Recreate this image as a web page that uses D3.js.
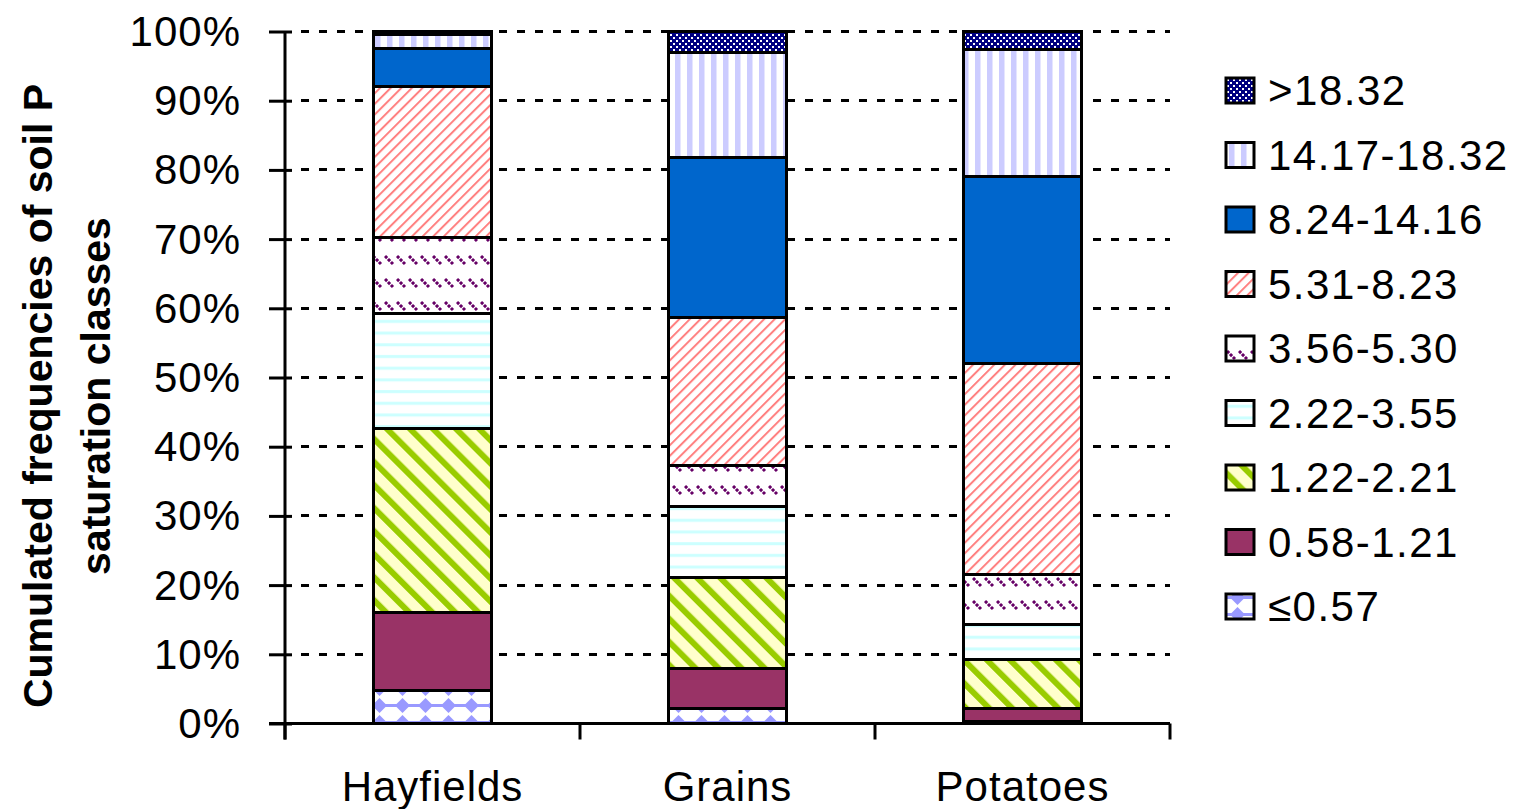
<!DOCTYPE html>
<html lang="en">
<head>
    <meta charset="UTF-8">
    <script src="https://d3js.org/d3.v7.min.js"></script>
    <style>
        body { margin: 0; background: #fff; }
        svg { display: block; font-family: "Liberation Sans", Arial, sans-serif; }
    </style>
</head>
<body>
    <svg width="1520" height="809"></svg>
    <script>
        // data (percent of fields in each class)
        var categories = ["Hayfields", "Grains", "Potatoes"];
        var classes = ["≤0.57", "0.58-1.21", "1.22-2.21", "2.22-3.55", "3.56-5.30", "5.31-8.23", "8.24-14.16", "14.17-18.32", ">18.32"];
        var hayfields = [4.7, 11.3, 26.7, 16.6, 10.9, 21.8, 5.5, 2.1, 0.4];
        var grains    = [2.1, 5.8, 13.2, 10.2, 6.0, 21.4, 23.1, 15.2, 3.0];
        var potatoes  = [0.3, 1.8, 7.1, 5.1, 7.3, 30.4, 27.1, 18.3, 2.6];
        var yTicks = [0, 10, 20, 30, 40, 50, 60, 70, 80, 90, 100];

        var svg = d3.select("svg");
        var pLeft = 285, pRight = 1170, pTop = 31.5, pBottom = 723.5;

        var table = categories.map(function(c, i) {
            var vals = [hayfields, grains, potatoes][i];
            var row = { cat: c };
            classes.forEach(function(k, j) { row[k] = vals[j]; });
            return row;
        });
        var series = d3.stack().keys(classes)(table);

        var x = d3.scaleBand().domain(categories).range([pLeft, pRight]).paddingInner(0.6).paddingOuter(0.3);
        var y = d3.scaleLinear().domain([0, 100]).range([pBottom, pTop]);

        // fill patterns
        var defs = svg.append("defs");
        function pat(id, w, h, tr) {
            var p = defs.append("pattern").attr("id", id).attr("patternUnits", "userSpaceOnUse")
                .attr("width", w).attr("height", h);
            if (tr) p.attr("patternTransform", tr);
            return p;
        }
        var p;
        // <=0.57 diamonds
        p = pat("p0", 23, 17);
        p.append("rect").attr("width", 23).attr("height", 17).attr("fill", "#fff");
        p.append("path").attr("d", "M11.5,1 L19,8.5 L11.5,16 L4,8.5Z").attr("fill", "#9999ff");
        p.append("rect").attr("x", 0).attr("y", 7).attr("width", 23).attr("height", 3).attr("fill", "#9999ff");
        // 1.22-2.21 green wide diagonals
        p = pat("p2", 16.3, 16.3, "rotate(-45)");
        p.append("rect").attr("width", 16.3).attr("height", 16.3).attr("fill", "#ffffcc");
        p.append("rect").attr("width", 6).attr("height", 16.3).attr("fill", "#99cc00");
        // 2.22-3.55 horizontal cyan lines
        p = pat("p3", 12, 11.7);
        p.append("rect").attr("width", 12).attr("height", 11.7).attr("fill", "#fff");
        p.append("rect").attr("y", 4).attr("width", 12).attr("height", 3).attr("fill", "#ccffff");
        // 3.56-5.30 purple dashed downward diagonals
        p = pat("p4", 12, 23);
        p.append("rect").attr("width", 12).attr("height", 23).attr("fill", "#fff");
        p.append("path").attr("d", "M1,3 L9,11").attr("stroke", "#660066").attr("stroke-width", 3)
            .attr("stroke-dasharray", "3,1.2");
        // 5.31-8.23 pink thin upward diagonals
        p = pat("p5", 7.5, 7.5, "rotate(45)");
        p.append("rect").attr("width", 7.5).attr("height", 7.5).attr("fill", "#fff");
        p.append("rect").attr("width", 2).attr("height", 7.5).attr("fill", "#ff8080");
        // 14.17-18.32 vertical lavender stripes
        p = pat("p7", 12, 12);
        p.append("rect").attr("width", 12).attr("height", 12).attr("fill", "#fff");
        p.append("rect").attr("x", 3).attr("width", 5.5).attr("height", 12).attr("fill", "#ccccff");
        // >18.32 navy with white dots
        p = pat("p8", 6, 6);
        p.append("rect").attr("width", 6).attr("height", 6).attr("fill", "#000080");
        p.append("rect").attr("x", 1).attr("y", 1).attr("width", 2).attr("height", 2).attr("fill", "#fff");
        p.append("rect").attr("x", 4).attr("y", 4).attr("width", 2).attr("height", 2).attr("fill", "#fff");

        var fills = ["url(#p0)", "#993366", "url(#p2)", "url(#p3)", "url(#p4)", "url(#p5)", "#0066cc", "url(#p7)", "url(#p8)"];

        // gridlines
        svg.append("g").selectAll("line").data(yTicks.slice(1)).enter().append("line")
            .attr("x1", pLeft + 16).attr("x2", pRight)
            .attr("y1", function(d) { return y(d); }).attr("y2", function(d) { return y(d); })
            .attr("stroke", "#000").attr("stroke-width", 3).attr("stroke-dasharray", "8,10")
            .attr("shape-rendering", "crispEdges");

        // bars
        var layers = svg.append("g").selectAll("g").data(series).enter().append("g")
            .attr("fill", function(d, i) { return fills[i]; });
        layers.selectAll("rect").data(function(d) { return d; }).enter().append("rect")
            .attr("x", function(d) { return x(d.data.cat); })
            .attr("y", function(d) { return y(d[1]); })
            .attr("width", x.bandwidth())
            .attr("height", function(d) { return y(d[0]) - y(d[1]); })
            .attr("stroke", "#000").attr("stroke-width", 3)
            .attr("shape-rendering", "crispEdges");

        // y axis
        var yAxis = svg.append("g").attr("transform", "translate(" + pLeft + ",0)")
            .call(d3.axisLeft(y).tickValues(yTicks).tickSize(16).tickPadding(28)
                .tickFormat(function(d) { return d + "%"; }));
        yAxis.selectAll("line").attr("stroke-width", 3).attr("x2", 7).attr("x1", -16);
        yAxis.select(".domain").remove();
        yAxis.append("line").attr("y1", pTop).attr("y2", pBottom + 16).attr("stroke", "#000").attr("stroke-width", 3);
        yAxis.selectAll("text").attr("font-size", 42).attr("letter-spacing", 1).attr("fill", "#000")
            .attr("font-family", "'Liberation Sans', Arial, sans-serif").attr("dy", 14);

        // x axis
        var xAxis = svg.append("g").attr("transform", "translate(0," + pBottom + ")");
        xAxis.append("line").attr("x1", pLeft - 16).attr("x2", pRight).attr("stroke", "#000").attr("stroke-width", 3);
        xAxis.selectAll("line.tk").data(categories.concat(["end"])).enter().append("line").attr("class", "tk")
            .attr("x1", function(d, i) { return pLeft + i * x.step(); })
            .attr("x2", function(d, i) { return pLeft + i * x.step(); })
            .attr("y1", 0).attr("y2", 16).attr("stroke", "#000").attr("stroke-width", 3);
        xAxis.selectAll("text").data(categories).enter().append("text")
            .attr("x", function(d) { return x(d) + x.bandwidth() / 2; })
            .attr("y", 77).attr("text-anchor", "middle")
            .attr("font-size", 42).attr("letter-spacing", 1).text(function(d) { return d; });

        // y title
        var yt = svg.append("text").attr("transform", "translate(0,396) rotate(-90)")
            .attr("text-anchor", "middle").attr("font-size", 41).attr("font-weight", "bold");
        yt.append("tspan").attr("x", 0).attr("y", 52).text("Cumulated frequencies of soil P");
        yt.append("tspan").attr("x", 0).attr("y", 110).text("saturation classes");

        // legend
        var leg = svg.append("g").selectAll("g").data(classes.slice().reverse()).enter().append("g")
            .attr("transform", function(d, i) { return "translate(1226," + (90 + i * 64.5) + ")"; });
        leg.append("rect").attr("x", 0).attr("y", -12).attr("width", 28).attr("height", 25)
            .attr("fill", function(d) { return fills[classes.indexOf(d)]; })
            .attr("stroke", "#000").attr("stroke-width", 3);
        leg.append("text").attr("x", 42).attr("y", 15).attr("font-size", 42).attr("letter-spacing", 1.5)
            .text(function(d) { return d; });
    </script>
</body>
</html>
